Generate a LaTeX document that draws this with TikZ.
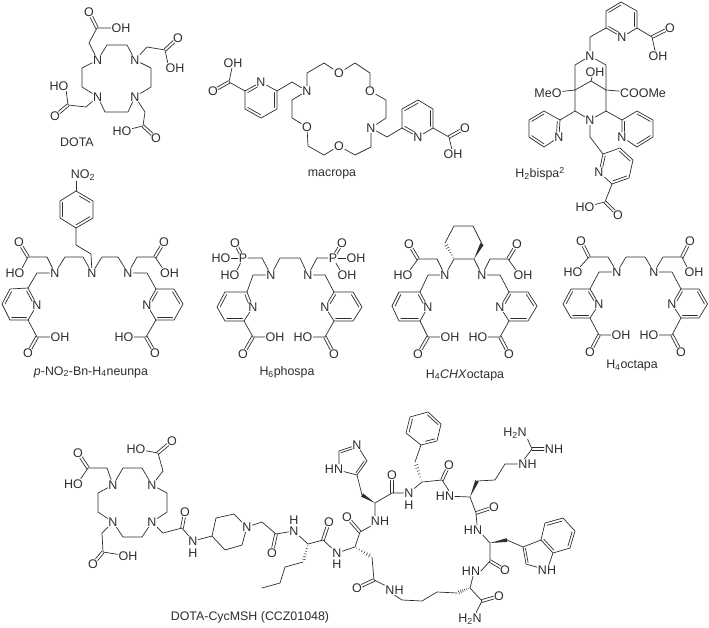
\documentclass[tikz,border=0pt]{standalone}
\usepackage{fontspec}
\setmainfont{Liberation Sans}
\usetikzlibrary{calc}
\definecolor{ink}{gray}{0.18}
\tikzset{
  bond/.style={draw=ink,line width=0.7pt,line join=round,line cap=round},
  atom/.style={inner sep=0.9pt,outer sep=0pt,text=ink,font=\fontsize{12.5}{12.5}\selectfont},
  caption/.style={inner sep=0pt,text=ink,font=\fontsize{12.4}{12.4}\selectfont}
}
\newcommand\atm[3]{\node[atom] (#1) at (#2) {#3};}
\newcommand\capt[3]{\node[caption] (#1) at (#2) {#3};}
\newcommand\bd[1]{\draw[bond] #1;}
\newcommand\dbond[3][5.5pt]{%
  \draw[bond,shorten >=#1] ($(#2)!1.4pt!90:(#3)$) -- ($(#3)!1.4pt!-90:(#2)$);
  \draw[bond,shorten >=#1] ($(#2)!1.4pt!-90:(#3)$) -- ($(#3)!1.4pt!90:(#2)$);}
\newcommand\pdbond[2]{%
  \draw[bond,shorten >=5.5pt,shorten <=5.5pt] ($(#1)!1.4pt!90:(#2)$) -- ($(#2)!1.4pt!-90:(#1)$);
  \draw[bond,shorten >=5.5pt,shorten <=5.5pt] ($(#1)!1.4pt!-90:(#2)$) -- ($(#2)!1.4pt!90:(#1)$);}
\newcommand\ib[3]{\draw[bond] ($(#1)!.17!(#3)$) -- ($(#2)!.17!(#3)$);}
\newcommand\hexring[6]{%
  \draw[bond] (#1)--(#2)--(#3)--(#4)--(#5)--(#6)--(#1);
  \coordinate (rc) at ($(#1)!.5!(#4)$);
  \draw[bond,shorten <=4pt] ($(#1)!.17!(rc)$) -- ($(#2)!.17!(rc)$);
  \ib{#3}{#4}{rc}\ib{#5}{#6}{rc}}
\newcommand\wdg[2]{\fill[ink] (#1) -- ($(#2)!1.9pt!90:(#1)$) -- ($(#2)!1.9pt!-90:(#1)$) -- cycle;}
\newcommand\hsh[2]{\foreach \t in {0.1,0.25,0.4,0.55,0.7,0.85,1.0}{%
  \pgfmathsetmacro\w{0.3+2.0*\t}%
  \draw[draw=ink,line width=0.5pt] ($(#1)!\t!(#2)!\w pt!90:(#2)$) -- ($(#1)!\t!(#2)!\w pt!-90:(#2)$);}}
\begin{document}
\begin{tikzpicture}[x=1pt,y=-1pt]
\useasboundingbox (0,0) rectangle (709,627);
\fill[white] (0,0) rectangle (709,627);

% ---------- DOTA
\atm{a1}{97.7,60}{N}\atm{a2}{135,60}{N}\atm{a3}{97.7,96.7}{N}\atm{a4}{135,96.7}{N}
\atm{a5}{89,12}{O}\atm{a6}{121,28}{OH}
\atm{a7}{178,38}{O}\atm{a8}{175,68}{OH}
\atm{a9}{55,116}{O}\atm{a10}{59,86}{HO}
\atm{a11}{156,138}{O}\atm{a12}{122,131}{HO}
\capt{capa}{77,142}{DOTA}
\bd{(a1)--(107,45)--(127,45)--(a2)--(151,68)--(151,87)--(a4)--(128,112)--(105,112)--(a3)--(82,87)--(82,68)--(a1)}
\bd{(a1)--(89,43)--(97,28)--(a6)}\dbond{97,28}{a5}
\bd{(a2)--(147,47)--(165,50)--([xshift=3pt]a8.north west)}\dbond{165,50}{a7}
\bd{(a3)--(86,107)--(68,105)--([xshift=-3pt]a10.south east)}\dbond{68,105}{a9}
\bd{(a4)--(145,112)--(143,126)--(a12)}\dbond{143,126}{a11}

% ---------- macropa
\atm{m1}{213,91}{O}\atm{m2}{233,63}{OH}\atm{m3}{261,82}{N}\atm{m4}{307,91}{N}
\atm{m5}{339,73}{O}\atm{m6}{370,91}{O}\atm{m7}{371,128}{N}\atm{m8}{339,146}{O}\atm{m9}{307,127}{O}
\atm{m10}{418,137}{N}\atm{m11}{465,128}{O}\atm{m12}{453,154}{OH}
\capt{capm}{332,174}{macropa}
\hexring{m3}{245,91}{245,109}{261,118}{277,109}{277,91}
\bd{(245,91)--(229,82)--(m2)}\dbond{229,82}{m1}
\bd{(277,91)--(292,82)--(m4)}
\bd{(m4)--(307,73)--(324,63)--(m5)--(355,63)--(370,73)--(m6)--(386,100)--(386,118)--(m7)--(371,147)--(355,155)--(m8)--(324,155)--(308,146)--(m9)--(292,118)--(292,100)--(m4)}
\hexring{m10}{402,128}{402,109}{418,100}{433,109}{433,128}
\bd{(m7)--(387,137)--(402,128)}
\bd{(433,128)--(449,137)--(m12)}\dbond{449,137}{m11}

% ---------- H2bispa2
\atm{b1}{622,37}{N}\atm{b2}{670,28}{O}\atm{b3}{658,56}{OH}\atm{b4}{590,56}{N}
\atm{b5}{595,72}{OH}\atm{b6}{548,93}{MeO}\atm{b7}{643,93}{COOMe}\atm{b8}{590,120}{N}
\atm{b9}{559,137}{N}\atm{b10}{622,137}{N}\atm{b11}{599,172}{N}\atm{b12}{618,215}{O}\atm{b13}{585,207}{HO}
\capt{capb}{540,174}{H\textsubscript{2}bispa\textsuperscript{2}}
\hexring{b1}{606,28}{606,11}{621,2}{637,11}{637,28}
\bd{(637,28)--(652,37)--([xshift=-3pt]b3.north)}\dbond{652,37}{b2}
\bd{(606,28)--(590,37)--(b4)}
\bd{(b4)--(575,65)--(575,111)--(b8)--(606,111)--(606,65)--(b4)}
\bd{(575,90)--(591,81)--(606,90)}
\bd{(591,81)--([xshift=-3pt]b5.south)}
\bd{(575,90)--(b6)}\bd{(606,90)--(b7)}
\bd{(575,111)--(560,120)}\bd{(606,111)--(622,120)}
\hexring{b9}{560,120}{544,111}{529,120}{529,137}{544,147}
\hexring{b10}{622,120}{637,111}{653,120}{653,137}{637,147}
\bd{(b8)--(590,137)--(603,154)}
\hexring{b11}{603,154}{620,148}{633,160}{629,178}{612,184}
\bd{(612,184)--(605,202)--(b13)}\dbond{605,202}{b12}

% ---------- neunpa
\atm{n1}{83,175}{NO\textsubscript{2}}\atm{n2}{92,273}{N}\atm{n3}{55,273}{N}\atm{n4}{128,273}{N}
\atm{n5}{19,242}{O}\atm{n6}{15,273}{HO}\atm{n7}{37,305}{N}\atm{n8}{60,337}{OH}\atm{n9}{28,353}{O}
\atm{n10}{164,242}{O}\atm{n11}{169.5,273}{OH}\atm{n12}{147,305}{N}\atm{n13}{124,337}{HO}\atm{n14}{155,353}{O}
\capt{capn}{91,372}{\textit{p}-NO\textsubscript{2}-Bn-H\textsubscript{4}neunpa}
\bd{([xshift=-7pt]n1.south)--(76,191)}
\hexring{76,191}{93,201}{93,218}{76,228}{60,218}{60,201}
\bd{(76,228)--(76,245)--(91,254)--(n2)}
\bd{(n2)--(83,257)--(65,257)--(n3)}\bd{(n2)--(102,257)--(118,257)--(n4)}
\bd{(n3)--(47,257)--(28,257)--([xshift=-3pt]n6.north east)}\dbond{28,257}{n5}
\bd{(n4)--(137,257)--(155,257)--([xshift=3pt]n11.north west)}\dbond{155,257}{n10}
\bd{(n3)--(37,273)--(28,288)}
\hexring{n7}{28,288}{10,289}{2,304}{10,320}{28,320}
\bd{(28,320)--(37,337)--(n8)}\dbond{37,337}{n9}
\bd{(n4)--(147,273)--(156,289)}
\hexring{n12}{156,289}{174,289}{183,304}{174,320}{156,320}
\bd{(156,320)--(146,337)--(n13)}\dbond{146,337}{n14}

% ---------- phospa
\atm{p1}{243,258}{P}\atm{p2}{235,243}{O}\atm{p3}{221,258}{HO}\atm{p4}{230,275}{HO}
\atm{p5}{271,275}{N}\atm{p6}{308,275}{N}\atm{p7}{333,258}{P}\atm{p8}{342,243}{O}\atm{p9}{356,258}{OH}\atm{p10}{347,275}{OH}
\atm{p11}{253,307}{N}\atm{p12}{275,337}{OH}\atm{p13}{243,354}{O}
\atm{p14}{325,307}{N}\atm{p15}{303,337}{HO}\atm{p16}{334,354}{O}
\capt{capp}{287,372}{H\textsubscript{6}phospa}
\pdbond{p1}{p2}\pdbond{p7}{p8}
\bd{(p3)--(p1)}\bd{(p1)--([xshift=-3pt]p4.north east)}
\bd{(p1)--(262,258)--(p5)--(280,258)--(300,258)--(p6)--(317,258)--(p7)}
\bd{(p7)--(p9)}\bd{(p7)--([xshift=3pt]p10.north west)}
\bd{(p5)--(253,275)--(247,292)}
\hexring{p11}{247,292}{225,292}{217,307}{225,321}{244,321}
\bd{(244,321)--(253,337)--(p12)}\dbond{253,337}{p13}
\bd{(p6)--(325,275)--(334,292)}
\hexring{p14}{334,292}{353,292}{362,307}{353,321}{334,321}
\bd{(334,321)--(325,337)--(p15)}\dbond{325,337}{p16}

% ---------- H4CHXoctapa
\atm{x1}{445,275}{N}\atm{x2}{482,275}{N}\atm{x3}{409,244}{O}\atm{x4}{403,275}{HO}
\atm{x5}{517,244}{O}\atm{x6}{523,275}{OH}
\atm{x7}{428,307}{N}\atm{x8}{450,337}{OH}\atm{x9}{418,354}{O}
\atm{x10}{500,307}{N}\atm{x11}{478,337}{HO}\atm{x12}{509,354}{O}
\capt{capx}{465,375}{H\textsubscript{4}\textit{CHX}octapa}
\bd{(x1)--(454,259)--(474,259)--(x2)}
\wdg{474,259}{482,244}\hsh{454,259}{445,243}
\bd{(482,244)--(473,226)--(454,226)--(445,243)}
\bd{(x1)--(437,259)--(418,259)--([xshift=-3pt]x4.north east)}\dbond{418,259}{x3}
\bd{(x2)--(490,259)--(508,259)--([xshift=3pt]x6.north west)}\dbond{508,259}{x5}
\bd{(x1)--(428,275)--(420,292)}
\hexring{x7}{420,292}{399,292}{392,306}{399,321}{420,321}
\bd{(420,321)--(428,337)--(x8)}\dbond{428,337}{x9}
\bd{(x2)--(500,275)--(509,292)}
\hexring{x10}{509,292}{528,292}{537,306}{528,321}{509,321}
\bd{(509,321)--(500,337)--(x11)}\dbond{500,337}{x12}

% ---------- H4octapa
\atm{o1}{617,272}{N}\atm{o2}{654,272}{N}\atm{o3}{581,241}{O}\atm{o4}{573,272}{HO}
\atm{o5}{690,241}{O}\atm{o6}{694,272}{OH}
\atm{o7}{599,304}{N}\atm{o8}{621,335}{OH}\atm{o9}{590,352}{O}
\atm{o10}{672,304}{N}\atm{o11}{649,335}{HO}\atm{o12}{681,352}{O}
\capt{capo}{632,366}{H\textsubscript{4}octapa}
\bd{(o1)--(626,257)--(645,257)--(o2)}
\bd{(o1)--(608,257)--(589,257)--([xshift=-3pt]o4.north east)}\dbond{589,257}{o3}
\bd{(o2)--(663,257)--(682,257)--([xshift=3pt]o6.north west)}\dbond{682,257}{o5}
\bd{(o1)--(599,272)--(590,289)}
\hexring{o7}{590,289}{571,289}{563,304}{571,318}{590,318}
\bd{(590,318)--(599,335)--(o8)}\dbond{599,335}{o9}
\bd{(o2)--(672,272)--(681,289)}
\hexring{o10}{681,289}{699,289}{707.5,304}{699,318}{681,318}
\bd{(681,318)--(672,335)--(o11)}\dbond{672,335}{o12}

% ---------- DOTA-CycMSH: chelator
\atm{c1}{113,485}{N}\atm{c2}{152,485}{N}\atm{c3}{113,522}{N}\atm{c4}{152,522}{N}
\atm{c5}{78,453}{O}\atm{c6}{73.5,484}{HO}\atm{c7}{172,441}{O}\atm{c8}{136,449}{HO}
\atm{c9}{93,564}{O}\atm{c10}{128,556}{OH}\atm{c11}{185,512}{O}\atm{c12}{193,541}{N}\atm{c12h}{193,553}{H}
\atm{c13}{247,527}{N}
\capt{capc}{250,617}{DOTA-CycMSH (CCZ01048)}
\bd{(c1)--(123,468)--(142,468)--(c2)--(167,493)--(167,512)--(c4)--(142,537)--(123,537)--(c3)--(98,512)--(98,493)--(c1)}
\bd{(c1)--(107,468)--(88,468)--([xshift=-3pt]c6.north east)}\dbond{88,468}{c5}
\bd{(c2)--(163,471)--(158,453)--(c8)}\dbond{158,453}{c7}
\bd{(c3)--(102,533)--(103,552)--(c10)}\dbond{103,552}{c9}
\bd{(c4)--(163,533)--(182,528)--(c12)}\dbond{182,528}{c11}
\bd{(c12)--(212,536)--(216,518)--(234,514)--(c13)--(242,545)--(225,550)--(212,536)}

% ---------- peptide
\atm{d1}{272,553}{O}\atm{d2}{294,531}{N}\atm{d2h}{294,520}{H}
\atm{d3}{329,522}{O}\atm{d4}{337,553}{N}\atm{d4h}{337,564}{H}
\atm{d5}{347,517}{O}\atm{d6}{380,521}{NH}
\atm{d7}{392,475}{O}\atm{d8}{409,493}{N}\atm{d8h}{409,505}{H}
\atm{d9}{449,465}{O}\atm{d10}{445,496}{HN}
\atm{d11}{494,507}{O}\atm{d12}{473,530}{HN}
\atm{d13}{505,570}{O}\atm{d14}{471,571}{HN}
\atm{d15}{499,596}{O}\atm{d16}{470,619}{H\textsubscript{2}N}
\atm{d17}{357,588}{O}\atm{d18}{394.5,590}{NH}
\atm{d19}{357,445}{N}\atm{d20}{334,469}{HN}
\atm{d21}{547,570}{NH}
\atm{d22}{527.5,464}{NH}\atm{d23}{554,449}{NH}\atm{d24}{515,433}{H\textsubscript{2}N}
\bd{(c13)--(262,522)--(276,534)--(d2)--(308,544)--(323,540)--(d4)--(355,547)--(360,532)--(d6)}
\dbond{276,534}{d1}\dbond{323,540}{d3}\dbond{360,532}{d5}
\hsh{308,544}{303,562}
\bd{(303,562)--(285,567)--(280,583)--(262,588)}
\hsh{355,547}{372,557}
\bd{(372,557)--(374,580)--(d18)}\dbond{374,580}{d17}
\bd{(d18.south)--(402,600)--(422,601)--(437,592)--(457,593)}
\hsh{470,588}{457,593}
\bd{([xshift=-5pt]d6.north)--(375,503)--(392,493)--(d8)}\dbond{392,493}{d7}
\wdg{375,503}{362,495}
\bd{(362,495)--(357,475)}
% imidazole
\bd{(357,475)--(367,461)--(d19)--(339,451)--([xshift=5pt]d20.north)}
\bd{(357,475)--(d20)}
\coordinate (imc) at (351,461);
\ib{357,475}{367,461}{imc}
\draw[bond,shorten <=4pt] ($(d19)!.17!(imc)$) -- ($(339,451)!.17!(imc)$);
% Phe
\bd{(d8)--(422,482)--(442,480)--([xshift=4pt]d10.north)}\dbond{442,480}{d9}
\hsh{422,482}{415,462}
\bd{(415,462)--(421,445)}
\hexring{421,445}{437,441}{441,424}{428,412}{410,417}{406,433}
\bd{(d10)--(470,497)--(476,513)--([xshift=4pt]d12.north)}\dbond{476,513}{d11}
% Arg
\wdg{470,497}{477,481}
\bd{(477,481)--(495,480)--(505,464)--(d22)}
\bd{([xshift=-3pt]d22.north)--(532,449)--(d24.south east)}
\dbond[10pt]{532,449}{d23}
% Trp
\bd{(d12.south east)--(490,543)--(490,561)--(d14.east)}\dbond{490,561}{d13}
\wdg{490,543}{507,540}
\bd{(507,540)--(523,547)--(526,564)--(d21)--(553,553)--(541,540)--(523,547)}
\coordinate (fiv) at (538,555);\coordinate (six) at (558,536);
\ib{523,547}{526,564}{fiv}
\bd{(541,540)--(545,523)--(563,518)--(575,531)--(570,548)--(553,553)}
\ib{545,523}{563,518}{six}\ib{575,531}{570,548}{six}\ib{553,553}{541,540}{six}
% C-terminus
\bd{([xshift=2pt]d14.south)--(470,588)--(482,601)--([xshift=6pt]d16.north)}\dbond{482,601}{d15}
\end{tikzpicture}
\end{document}
